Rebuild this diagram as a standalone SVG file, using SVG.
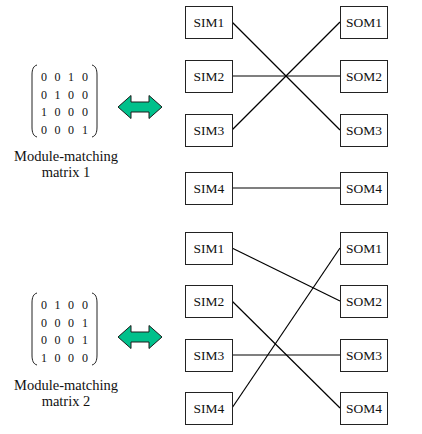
<svg xmlns="http://www.w3.org/2000/svg" width="422" height="434" viewBox="0 0 422 434" font-family="'Liberation Serif', 'Times New Roman', 'DejaVu Serif', serif">
<style>
text{font-family:'Liberation Serif','Times New Roman','DejaVu Serif',serif}
.box{fill:#fff;stroke:#222;stroke-width:1}
.lbl{font-size:13.5px;fill:#111;text-anchor:middle}
.d{font-size:12px;fill:#111;text-anchor:middle}
.cap{font-size:14.5px;fill:#111;text-anchor:middle}
.par{fill:none;stroke:#222;stroke-width:1}
.arr{fill:#00C08B;stroke:#1a1a1a;stroke-width:1}
.ln{stroke:#000;stroke-width:1.2;fill:none}
</style>
<defs>
<path id="arrow" class="arr" d="M0,0 L13,-11.5 L13,-5 L31,-5 L31,-11.5 L44,0 L31,11.5 L31,5 L13,5 L13,11.5 Z"/>
<g id="mat-paren">
<path class="par" d="M37,0 C33.5,1 32,4 32,10 L32,62 C32,68 33.5,71 37,72"/>
<path class="par" d="M92,0 C95.5,1 97,4 97,10 L97,62 C97,68 95.5,71 92,72"/>
</g>
</defs>
<g id="connectors">
<line class="ln" x1="232" y1="22" x2="340" y2="130"/>
<line class="ln" x1="232" y1="76" x2="340" y2="76"/>
<line class="ln" x1="232" y1="130" x2="340" y2="22"/>
<line class="ln" x1="232" y1="188" x2="340" y2="188"/>
<line class="ln" x1="232" y1="248" x2="340" y2="301"/>
<line class="ln" x1="232" y1="301" x2="340" y2="408"/>
<line class="ln" x1="232" y1="355" x2="340" y2="355"/>
<line class="ln" x1="232" y1="408" x2="340" y2="248"/>
</g>
<g id="matrix1">
<use href="#mat-paren" transform="translate(0,65)"/>
<text class="d" y="81"><tspan x="44">0</tspan><tspan x="57.5">0</tspan><tspan x="71">1</tspan><tspan x="85">0</tspan></text>
<text class="d" y="98.5"><tspan x="44">0</tspan><tspan x="57.5">1</tspan><tspan x="71">0</tspan><tspan x="85">0</tspan></text>
<text class="d" y="116"><tspan x="44">1</tspan><tspan x="57.5">0</tspan><tspan x="71">0</tspan><tspan x="85">0</tspan></text>
<text class="d" y="133.5"><tspan x="44">0</tspan><tspan x="57.5">0</tspan><tspan x="71">0</tspan><tspan x="85">1</tspan></text>
<text class="cap" x="66" y="161">Module-matching</text>
<text class="cap" x="66" y="177">matrix 1</text>
</g>
<g id="arrow1"><use href="#arrow" transform="translate(118,107)"/></g>
<g id="matrix2">
<use href="#mat-paren" transform="translate(0,293)"/>
<text class="d" y="309"><tspan x="44">0</tspan><tspan x="57.5">1</tspan><tspan x="71">0</tspan><tspan x="85">0</tspan></text>
<text class="d" y="326.5"><tspan x="44">0</tspan><tspan x="57.5">0</tspan><tspan x="71">0</tspan><tspan x="85">1</tspan></text>
<text class="d" y="344"><tspan x="44">0</tspan><tspan x="57.5">0</tspan><tspan x="71">0</tspan><tspan x="85">1</tspan></text>
<text class="d" y="361.5"><tspan x="44">1</tspan><tspan x="57.5">0</tspan><tspan x="71">0</tspan><tspan x="85">0</tspan></text>
<text class="cap" x="66" y="390">Module-matching</text>
<text class="cap" x="66" y="406">matrix 2</text>
</g>
<g id="arrow2"><use href="#arrow" transform="translate(118,337)"/></g>
<g id="sim1a"><rect class="box" x="185.5" y="6.5" width="47" height="32"/><text class="lbl" x="209" y="27">SIM1</text></g>
<g id="sim2a"><rect class="box" x="185.5" y="60.5" width="47" height="32"/><text class="lbl" x="209" y="81">SIM2</text></g>
<g id="sim3a"><rect class="box" x="185.5" y="114.5" width="47" height="32"/><text class="lbl" x="209" y="135">SIM3</text></g>
<g id="sim4a"><rect class="box" x="185.5" y="172.5" width="47" height="32"/><text class="lbl" x="209" y="193">SIM4</text></g>
<g id="som1a"><rect class="box" x="340.5" y="6.5" width="47" height="32"/><text class="lbl" x="364" y="27">SOM1</text></g>
<g id="som2a"><rect class="box" x="340.5" y="60.5" width="47" height="32"/><text class="lbl" x="364" y="81">SOM2</text></g>
<g id="som3a"><rect class="box" x="340.5" y="114.5" width="47" height="32"/><text class="lbl" x="364" y="135">SOM3</text></g>
<g id="som4a"><rect class="box" x="340.5" y="172.5" width="47" height="32"/><text class="lbl" x="364" y="193">SOM4</text></g>
<g id="sim1b"><rect class="box" x="185.5" y="232.5" width="47" height="32"/><text class="lbl" x="209" y="253">SIM1</text></g>
<g id="sim2b"><rect class="box" x="185.5" y="285.5" width="47" height="32"/><text class="lbl" x="209" y="306">SIM2</text></g>
<g id="sim3b"><rect class="box" x="185.5" y="339.5" width="47" height="32"/><text class="lbl" x="209" y="360">SIM3</text></g>
<g id="sim4b"><rect class="box" x="185.5" y="392.5" width="47" height="32"/><text class="lbl" x="209" y="413">SIM4</text></g>
<g id="som1b"><rect class="box" x="340.5" y="232.5" width="47" height="32"/><text class="lbl" x="364" y="253">SOM1</text></g>
<g id="som2b"><rect class="box" x="340.5" y="285.5" width="47" height="32"/><text class="lbl" x="364" y="306">SOM2</text></g>
<g id="som3b"><rect class="box" x="340.5" y="339.5" width="47" height="32"/><text class="lbl" x="364" y="360">SOM3</text></g>
<g id="som4b"><rect class="box" x="340.5" y="392.5" width="47" height="32"/><text class="lbl" x="364" y="413">SOM4</text></g>
</svg>
